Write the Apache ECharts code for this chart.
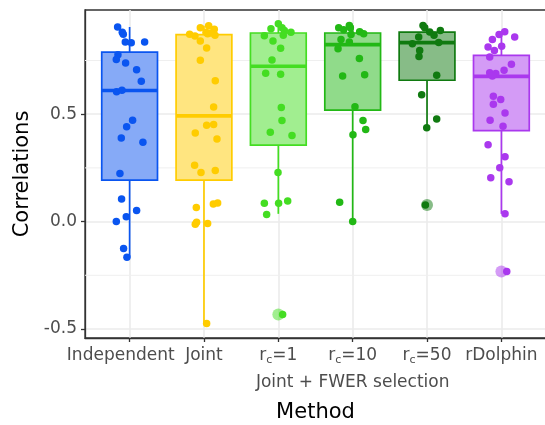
<!DOCTYPE html>
<html><head><meta charset="utf-8">
<script src="https://cdn.jsdelivr.net/npm/echarts@6/dist/echarts.min.js"></script>
<style>html,body{margin:0;padding:0;background:#fff}#c{width:545px;height:425px}</style>
</head><body><div id="c"></div>
<script>
// ---------- data ----------
const categories = ['Independent', 'Joint', 'r_c=1', 'r_c=10', 'r_c=50', 'rDolphin'];
const groupLabel = 'Joint + FWER selection';   // second line under the r_c=10 label
const groupLabelIndex = 3;
const yTicks = [-0.5, 0, 0.5];
const yMinorGrid = [-0.25, 0.25, 0.75];

// box statistics: lower whisker, Q1, median, Q3, upper whisker
const whiskerLow  = [-0.166, -0.475, 0.036, 0.000, 0.437, 0.036];
const q1          = [ 0.193,  0.193, 0.356, 0.519, 0.658, 0.423];
const medians     = [ 0.610,  0.492, 0.723, 0.824, 0.833, 0.676];
const q3          = [ 0.789,  0.870, 0.878, 0.878, 0.882, 0.774];
const whiskerHigh = [ 0.906,  0.912, 0.921, 0.913, 0.913, 0.884];
const outliers    = [[], [], [-0.433], [], [0.077], [-0.232]];

// jittered points: values and horizontal jitter (in category units)
const independentVals = [0.906,0.881,0.872,0.836,0.833,0.836,0.777,0.755,0.738,0.707,0.653,0.604,0.611,0.472,0.441,0.389,0.369,0.224,0.105,0.051,0.022,0.000,-0.125,-0.166];
const independentJit  = [-0.161,-0.099,-0.085,-0.058,0.022,0.202,-0.157,-0.179,-0.054,0.094,0.157,-0.175,-0.103,0.040,-0.040,-0.112,0.179,-0.130,-0.108,0.094,-0.045,-0.179,-0.081,-0.036];
const jointVals = [0.902,0.912,0.895,0.872,0.864,0.881,0.875,0.878,0.868,0.841,0.808,0.751,0.656,0.533,0.449,0.452,0.412,0.384,0.262,0.229,0.238,0.065,0.082,0.087,-0.012,-0.003,-0.009,-0.475];
const jointJit  = [-0.049,0.063,0.139,-0.193,-0.121,0.027,0.049,0.094,0.148,-0.049,0.036,-0.049,0.152,0.130,0.036,0.130,-0.117,0.175,-0.126,-0.040,0.152,-0.103,0.126,0.184,-0.117,-0.099,0.049,0.036];
const rc1Vals = [0.921,0.898,0.902,0.890,0.881,0.865,0.868,0.841,0.807,0.752,0.690,0.686,0.531,0.471,0.416,0.401,0.228,0.085,0.085,0.096,0.033,-0.433];
const rc1Jit  = [0.000,-0.099,0.049,0.081,0.170,-0.188,0.067,-0.072,0.031,-0.085,-0.170,0.031,0.040,0.049,-0.108,0.184,-0.004,-0.188,0.004,0.126,-0.157,0.058];
const rc10Vals = [0.902,0.893,0.913,0.902,0.871,0.884,0.875,0.848,0.836,0.805,0.759,0.678,0.684,0.534,0.471,0.429,0.404,0.090,0.000];
const rc10Jit  = [-0.188,-0.121,-0.045,-0.031,-0.022,0.094,0.148,-0.157,-0.045,-0.197,0.090,-0.135,0.161,0.031,0.139,0.175,0.004,-0.175,0.000];
const rc50Vals = [0.913,0.902,0.882,0.867,0.890,0.859,0.828,0.834,0.797,0.769,0.681,0.591,0.477,0.437,0.077];
const rc50Jit  = [-0.054,-0.031,0.036,0.094,0.179,-0.112,-0.197,0.157,-0.099,-0.108,0.130,-0.072,0.130,-0.004,-0.022];
const rdolphinVals = [0.884,0.871,0.859,0.848,0.813,0.816,0.797,0.766,0.732,0.704,0.693,0.689,0.678,0.584,0.568,0.546,0.506,0.472,0.444,0.358,0.302,0.251,0.204,0.186,0.036,-0.232];
const rdolphinJit  = [0.045,-0.031,0.179,-0.121,-0.179,0.004,-0.094,-0.157,0.135,0.036,-0.157,-0.076,-0.121,-0.108,-0.009,-0.108,0.049,-0.152,0.022,-0.179,0.049,-0.022,-0.143,0.103,0.049,0.072];

const pointVals = [independentVals, jointVals, rc1Vals, rc10Vals, rc50Vals, rdolphinVals];
const pointJit  = [independentJit, jointJit, rc1Jit, rc10Jit, rc50Jit, rdolphinJit];

// ---------- styles ----------
const colors = ['#0A55F0', '#FFCC00', '#44DD22', '#22B815', '#107A10', '#AA38EE'];
const fills  = ['#86AAF7', '#FFE580', '#A1EE90', '#90DB8A', '#87BC87', '#D49BF6'];
const FONT = 'DejaVu Sans';
const boxWidth = 0.75;

// ---------- build ----------
function catLabel(i) {
  const s = categories[i];
  let out;
  if (s.indexOf('r_c') === 0) out = '{a|r}{s|c}{a|' + s.slice(3) + '}';
  else out = (i === 0 ? '{ind|' : '{a|') + s + '}';
  if (i === groupLabelIndex) out += '\n{b|' + groupLabel + '}';
  return out;
}

const boxData = categories.map((c, i) => [i, whiskerLow[i], q1[i], medians[i], q3[i], whiskerHigh[i]]);

function renderBox(params, api) {
  const i = api.value(0);
  const lo = api.coord([i, api.value(1)]);
  const b1 = api.coord([i, api.value(2)]);
  const m  = api.coord([i, api.value(3)]);
  const b3 = api.coord([i, api.value(4)]);
  const hi = api.coord([i, api.value(5)]);
  const hw = api.size([boxWidth, 0])[0] / 2;
  const c = colors[i];
  return { type: 'group', children: [
    { type: 'line', shape: { x1: lo[0], y1: lo[1], x2: b1[0], y2: b1[1] }, style: { stroke: c, lineWidth: 1.7 } },
    { type: 'line', shape: { x1: b3[0], y1: b3[1], x2: hi[0], y2: hi[1] }, style: { stroke: c, lineWidth: 1.7 } },
    { type: 'rect', shape: { x: b1[0] - hw, y: b3[1], width: 2 * hw, height: b1[1] - b3[1] }, style: { fill: fills[i], stroke: c, lineWidth: 1.7 } },
    { type: 'line', shape: { x1: m[0] - hw, y1: m[1], x2: m[0] + hw, y2: m[1] }, style: { stroke: c, lineWidth: 3.6 } }
  ]};
}

function hGrid(params, api) {
  const cs = params.coordSys;
  const p = api.coord([0, api.value(1)]);
  return { type: 'line', shape: { x1: cs.x, y1: p[1], x2: cs.x + cs.width, y2: p[1] }, style: { stroke: '#EFEFEF', lineWidth: 1.0 } };
}

const series = [
  { type: 'custom', silent: true, z: 1, renderItem: hGrid, data: yMinorGrid.map(v => [0, v]) },
  { type: 'custom', z: 2, renderItem: renderBox, data: boxData, encode: { x: 0, y: [1, 2, 3, 4, 5] } }
];
outliers.forEach((arr, i) => {
  if (arr.length) series.push({ type: 'scatter', z: 3, symbolSize: 12, itemStyle: { color: colors[i], opacity: 0.5 }, data: arr.map(v => [i, v]) });
});
pointVals.forEach((vals, i) => {
  series.push({ type: 'scatter', z: 4, symbolSize: 7.5, itemStyle: { color: colors[i], opacity: 1 }, data: vals.map((v, k) => [i + pointJit[i][k], v]) });
});

const axisGrey = '#333333';
const xTickVals = categories.map((c, i) => i);
const chart = echarts.init(document.getElementById('c'), null, { renderer: 'canvas' });
chart.setOption({
  animation: false,
  backgroundColor: '#ffffff',
  textStyle: { fontFamily: FONT },
  grid: { left: 85, top: 10, width: 461, height: 328, show: true, borderColor: axisGrey, borderWidth: 1.3, backgroundColor: 'transparent', outerBoundsMode: 'none', containLabel: false },
  xAxis: {
    type: 'value', min: -0.6, max: 5.6,
    name: 'Method', nameLocation: 'middle', nameGap: 64,
    nameTextStyle: { fontSize: 21, color: '#000', fontFamily: FONT },
    axisLine: { show: true, onZero: false, lineStyle: { color: axisGrey, width: 1.3 } },
    axisTick: { show: true, length: 4, lineStyle: { color: axisGrey, width: 1.3 }, customValues: xTickVals },
    axisLabel: {
      customValues: xTickVals, margin: 7, hideOverlap: false,
      showMinLabel: true, showMaxLabel: true,
      formatter: v => catLabel(Math.round(v)),
      rich: {
        a: { fontSize: 17, color: '#4D4D4D', fontFamily: FONT, lineHeight: 22 },
        ind: { fontSize: 17, color: '#4D4D4D', fontFamily: FONT, lineHeight: 22, width: 90, align: 'right' },
        s: { fontSize: 11, color: '#4D4D4D', fontFamily: FONT, lineHeight: 22, padding: [9, 0, 0, 0] },
        b: { fontSize: 17, color: '#4D4D4D', fontFamily: FONT, lineHeight: 31 }
      }
    },
    splitLine: { show: true, lineStyle: { color: '#EBEBEB', width: 1.6 } }
  },
  yAxis: {
    type: 'value', min: -0.542, max: 0.985,
    name: 'Correlations', nameLocation: 'middle', nameGap: 50,
    nameTextStyle: { fontSize: 21, color: '#000', fontFamily: FONT },
    axisLine: { show: true, onZero: false, lineStyle: { color: axisGrey, width: 1.3 } },
    axisTick: { show: true, length: 4, lineStyle: { color: axisGrey, width: 1.3 }, customValues: yTicks },
    axisLabel: { customValues: yTicks, fontSize: 17, color: '#4D4D4D', margin: 8, fontFamily: FONT,
      showMinLabel: true, showMaxLabel: true,
      formatter: v => (Math.abs(v) < 1e-9 ? '0.0' : v.toFixed(1)) },
    splitLine: { show: true, lineStyle: { color: '#EBEBEB', width: 1.6 } }
  },
  series: series
});
</script>
</body></html>
